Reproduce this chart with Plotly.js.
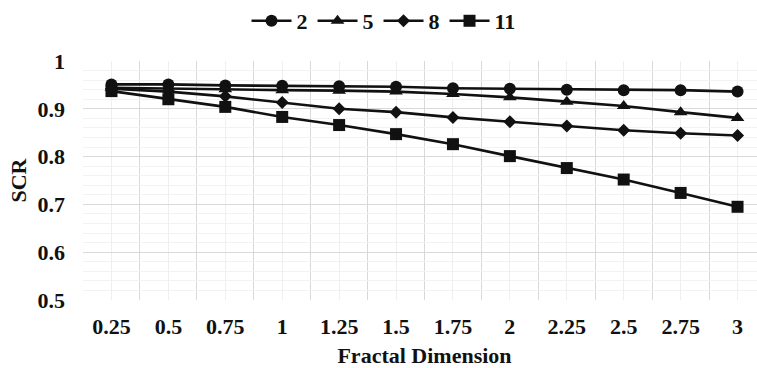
<!DOCTYPE html>
<html>
<head>
<meta charset="utf-8">
<script src="https://cdn.plot.ly/plotly-3.0.1.min.js"></script>
<style>
html, body { margin: 0; padding: 0; overflow: hidden; background: #fff; }
#chart { width: 776px; height: 368px; }
</style>
</head>
<body>
<div id="chart"></div>
<script>
const categories = ["0.25", "0.5", "0.75", "1", "1.25", "1.5", "1.75", "2", "2.25", "2.5", "2.75", "3"];
const seriesNames = ["2", "5", "8", "11"];
const s2  = [0.951, 0.951, 0.949, 0.948, 0.947, 0.946, 0.943, 0.942, 0.940, 0.939, 0.939, 0.936];
const s5  = [0.944, 0.942, 0.941, 0.939, 0.938, 0.936, 0.931, 0.924, 0.915, 0.906, 0.893, 0.881];
const s8  = [0.942, 0.936, 0.926, 0.913, 0.900, 0.893, 0.882, 0.873, 0.864, 0.855, 0.849, 0.844];
const s11 = [0.937, 0.920, 0.904, 0.883, 0.866, 0.847, 0.826, 0.801, 0.776, 0.752, 0.724, 0.695];
const yTicks = [0.5, 0.6, 0.7, 0.8, 0.9, 1];
const yTickText = ["0.5", "0.6", "0.7", "0.8", "0.9", "1"];

const idx = categories.map((c, i) => i);
const symbols = ["circle", "triangle-up", "diamond", "square"];
const sizes = [12, 12, 10, 12];
const allSeries = [s2, s5, s8, s11];
const FONT = "Liberation Serif, Times New Roman, serif";

const traces = allSeries.map((ys, k) => ({
  x: idx,
  y: ys,
  name: seriesNames[k],
  type: "scatter",
  mode: "lines+markers",
  line: { color: "#111111", width: 2.6 },
  marker: { symbol: symbols[k], size: sizes[k], color: "#111111" }
}));

const layout = {
  width: 776,
  height: 368,
  margin: { l: 83, r: 10, t: 61, b: 68 },
  paper_bgcolor: "#ffffff",
  plot_bgcolor: "#ffffff",
  font: { family: FONT, size: 22, color: "#111111" },
  showlegend: true,
  legend: {
    orientation: "h",
    x: 0.44, xanchor: "center",
    y: 0.943, yanchor: "middle",
    yref: "container",
    font: { family: FONT, size: 22, color: "#111111", weight: "bold" },
    itemwidth: 40,
    traceorder: "normal"
  },
  xaxis: {
    range: [-0.5, 11.5],
    tickmode: "array",
    tickvals: idx,
    ticktext: categories.map(c => "<b>" + c + "</b>"),
    showgrid: true,
    gridcolor: "#efefef",
    gridwidth: 1,
    zeroline: false,
    showline: false,
    ticks: "",
    ticklabelstandoff: 11,
    tickfont: { family: FONT, size: 22, color: "#111111" },
    minor: { tickmode: "linear", tick0: -0.5, dtick: 1, showgrid: true, gridcolor: "#d9d9d9", gridwidth: 1, ticks: "" },
    title: { text: "<b>Fractal Dimension</b>", font: { family: FONT, size: 22, color: "#111111" }, standoff: 23 }
  },
  yaxis: {
    range: [0.5, 1.0],
    tickmode: "array",
    tickvals: yTicks,
    ticktext: yTickText.map(t => "<b>" + t + "</b>"),
    showgrid: true,
    gridcolor: "#d9d9d9",
    gridwidth: 1,
    zeroline: false,
    showline: false,
    ticks: "",
    ticklabelstandoff: 17,
    tickfont: { family: FONT, size: 22, color: "#111111" },
    minor: { tickmode: "linear", tick0: 0.5, dtick: 0.02, showgrid: true, gridcolor: "#f2f2f2", gridwidth: 1, ticks: "" },
    title: { text: "<b>SCR</b>", font: { family: FONT, size: 22, color: "#111111" }, standoff: 4 }
  }
};

Plotly.newPlot("chart", traces, layout, { displayModeBar: false, staticPlot: true });
</script>
</body>
</html>
